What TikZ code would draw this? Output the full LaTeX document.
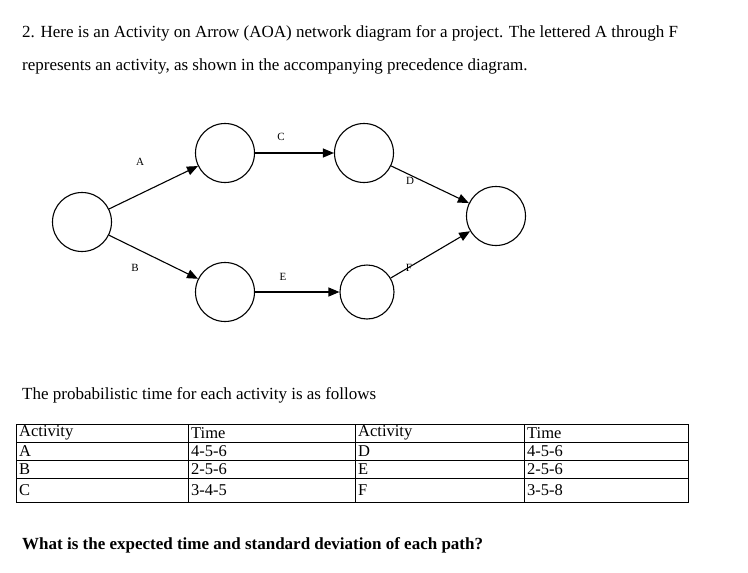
\documentclass[tikz,border=0pt]{standalone}
\usepackage{fontspec}
\setmainfont{Liberation Serif}
\usetikzlibrary{arrows.meta}
\begin{document}
\begin{tikzpicture}[x=1pt,y=-1pt,
  ev/.style={circle,draw,line width=1.1pt,minimum size=59pt,inner sep=0pt},
  act/.style={line width=1.1pt,-{Triangle[length=11pt,width=9pt]}},
  lab/.style={font=\fontsize{11}{13}\selectfont},
  txt/.style={anchor=west,inner sep=0pt,font=\fontsize{17}{20}\selectfont},
  cell/.style={anchor=west,inner sep=0pt,font=\fontsize{16.5}{18}\selectfont}]
\useasboundingbox (0,0) rectangle (748,573);
\node[txt] (t1) at (22,33) {2. Here is an Activity on Arrow (AOA) network diagram for a project. The lettered A through F};
\node[txt] (t2) at (22,66) {represents an activity, as shown in the accompanying precedence diagram.};
\node[ev] (n1) at (82,222) {};
\node[ev] (n2) at (225,153) {};
\node[ev] (n3) at (364,153) {};
\node[ev] (n6) at (496,216) {};
\node[ev] (n4) at (225,292) {};
\node[ev,minimum size=54pt] (n5) at (367,292) {};
\draw[act] (n1) -- (n2);
\draw[act] (n2) -- (n3);
\draw[act] (n3) -- (n6);
\draw[act] (n1) -- (n4);
\draw[act] (n4) -- (n5);
\draw[act] (n5) -- (n6);
\node[lab] (la) at (140,162) {A};
\node[lab] (lc) at (281,137) {C};
\node[lab] (ld) at (410,181) {D};
\node[lab] (lb) at (135,268) {B};
\node[lab] (le) at (283,277) {E};
\node[lab] (lf) at (409,268) {F};
\node[txt] (t3) at (22,395) {The probabilistic time for each activity is as follows};
\draw (16,424) rectangle (688,502);
\foreach \yy in {442,460,478} \draw (16,\yy) -- (688,\yy);
\foreach \xx in {188,355,524} \draw (\xx,424) -- (\xx,502);
\node[cell] at (19,433) {Activity}; \node[cell] at (191,433) {Time};
\node[cell] at (358,433) {Activity}; \node[cell] at (527,433) {Time};
\node[cell] at (19,451) {A}; \node[cell] at (191,451) {4-5-6};
\node[cell] at (358,451) {D}; \node[cell] at (527,451) {4-5-6};
\node[cell] at (19,469) {B}; \node[cell] at (191,469) {2-5-6};
\node[cell] at (358,469) {E}; \node[cell] at (527,469) {2-5-6};
\node[cell] at (19,490) {C}; \node[cell] at (191,490) {3-4-5};
\node[cell] at (358,490) {F}; \node[cell] at (527,490) {3-5-8};
\node[txt,font=\bfseries\fontsize{17}{20}\selectfont] (q) at (22,545) {What is the expected time and standard deviation of each path?};
\end{tikzpicture}
\end{document}
